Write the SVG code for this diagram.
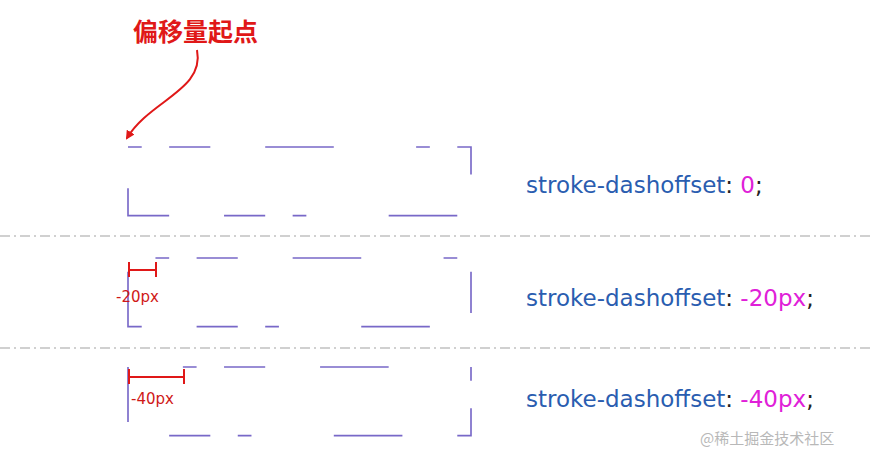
<svg xmlns="http://www.w3.org/2000/svg" width="870" height="453" viewBox="0 0 870 453">
<style>
.r{fill:none;stroke:#7868c8;stroke-width:1.2;stroke-dasharray:10 20 30 40 50 60}
.sep{stroke:#d0d0d0;stroke-width:2;stroke-dasharray:10 4 2 4}
.t{font-family:"DejaVu Sans",Verdana,sans-serif;font-size:23px;fill:#2a5db0}
.v{fill:#e020d8}
.k{fill:#222}
.m{stroke:#e01818;stroke-width:2;fill:none}
.ml{font-family:"DejaVu Sans",Verdana,sans-serif;font-size:15px;fill:#d01818}
</style>
<defs><marker id="ah" markerWidth="9" markerHeight="9" refX="7" refY="4.5" orient="auto" markerUnits="userSpaceOnUse"><path d="M0,0 L9,4.5 L0,9 z" fill="#e01818"/></marker></defs>
<g id="separators"><line class="sep" x1="0" y1="236" x2="870" y2="236"/><line class="sep" x1="0" y1="348" x2="870" y2="348"/></g>
<g id="rect1" transform="translate(128,147) scale(1.372)"><rect class="r" x="0" y="0" width="250" height="50"/></g>
<g id="rect2" transform="translate(128,258) scale(1.372)"><rect class="r" x="0" y="0" width="250" height="50" stroke-dashoffset="-20"/></g>
<g id="rect3" transform="translate(128,367) scale(1.372)"><rect class="r" x="0" y="0" width="250" height="50" stroke-dashoffset="-40"/></g>
<g id="labels">
<text class="t" x="526" y="193">stroke-dashoffset<tspan class="k">: </tspan><tspan class="v">0</tspan><tspan class="k">;</tspan></text>
<text class="t" x="526" y="306">stroke-dashoffset<tspan class="k">: </tspan><tspan class="v">-20px</tspan><tspan class="k">;</tspan></text>
<text class="t" x="526" y="407">stroke-dashoffset<tspan class="k">: </tspan><tspan class="v">-40px</tspan><tspan class="k">;</tspan></text>
</g>
<g id="annotation">
<text x="133" y="41" font-family="'Noto Sans CJK SC',sans-serif" font-weight="bold" font-size="25" fill="#e01818">偏移量起点</text>
<path class="m" d="M197,50 C205,90 150,100 127,138" marker-end="url(#ah)"/>
</g>
<g id="measure20"><path class="m" d="M129,262 V277 M156,262 V277 M129,270 H156"/><text class="ml" x="116" y="302">-20px</text></g>
<g id="measure40"><path class="m" d="M129,369 V384 M184,369 V384 M129,377 H184"/><text class="ml" x="131" y="404">-40px</text></g>
<text x="700" y="444" font-family="'Noto Sans CJK SC',sans-serif" font-size="15" fill="#b8b8b8">@稀土掘金技术社区</text>
</svg>
